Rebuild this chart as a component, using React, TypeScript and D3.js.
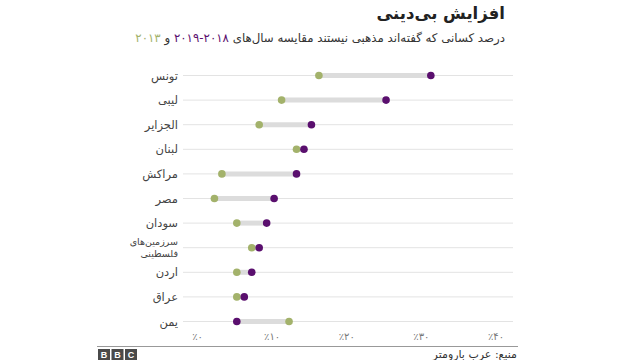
import * as d3 from 'd3'

const countries = ['تونس', 'لیبی', 'الجزایر', 'لبنان', 'مراکش', 'مصر', 'سودان', 'سرزمین‌های فلسطینی', 'اردن', 'عراق', 'یمن']
const values2013 = [16, 11, 8, 13, 3, 2, 5, 7, 5, 5, 12]
const values2019 = [31, 25, 15, 14, 13, 10, 9, 8, 7, 6, 5]
const ticks = [0, 10, 20, 30, 40]

const faDigits = (n: number) => String(n).replace(/\d/g, (d) => '۰۱۲۳۴۵۶۷۸۹'[+d])

const width = 640
const height = 360
const purple = '#5a0f6e'
const green = '#a3b26b'
const font = '"DejaVu Sans", sans-serif'

// in rtl text, "start" anchors the right edge
const rtl = { direction: 'rtl', textAnchor: 'start' } as const

export default function App() {
  const x = d3.scaleLinear().domain([0, 40]).range([199.5, 498])
  const y = d3.scalePoint<string>().domain(countries).range([75.5, 321.5])

  return (
    <svg
      width={width}
      height={height}
      style={{ position: 'absolute', left: 0, top: 0, background: '#fff' }}
      fontFamily={font}
    >
      {/* title */}
      <text x={505} y={19} {...rtl} fontSize={16.5} fontWeight="bold" fill="#222">
        افزایش بی‌دینی
      </text>
      <text x={505} y={42} {...rtl} fontSize={11.8} fill="#333">
        درصد کسانی که گفته‌اند مذهبی نیستند مقایسه سال‌های{' '}
        <tspan fill={purple}>۲۰۱۸-۲۰۱۹</tspan> و <tspan fill={green}>۲۰۱۳</tspan>
      </text>

      {/* grid rows */}
      {countries.map((c) => (
        <line key={'g' + c} x1={183} x2={513} y1={y(c)} y2={y(c)} stroke="#e3e3e3" strokeWidth={1} />
      ))}

      {/* country labels */}
      {countries.map((c) =>
        c.includes(' ') ? (
          <text key={'l' + c} x={178} {...rtl} fontSize={9.5} fill="#444">
            <tspan x={178} y={(y(c) ?? 0) - 3}>{c.split(' ')[0]}</tspan>
            <tspan x={178} y={(y(c) ?? 0) + 9}>{c.split(' ')[1]}</tspan>
          </text>
        ) : (
          <text key={'l' + c} x={178} y={(y(c) ?? 0) + 4} {...rtl} fontSize={11.5} fill="#444">
            {c}
          </text>
        ),
      )}

      {/* connectors */}
      {countries.map((c, i) => (
        <line
          key={'c' + c}
          x1={x(values2013[i])}
          x2={x(values2019[i])}
          y1={y(c)}
          y2={y(c)}
          stroke="#dcdcdc"
          strokeWidth={5}
        />
      ))}

      {/* dots */}
      {countries.map((c, i) => (
        <g key={'d' + c}>
          <circle cx={x(values2013[i])} cy={y(c)} r={3.8} fill={green} />
          <circle cx={x(values2019[i])} cy={y(c)} r={3.8} fill={purple} />
        </g>
      ))}

      {/* x axis labels */}
      {ticks.map((t) => (
        <text key={'t' + t} x={x(t) - 2} y={340} textAnchor="middle" direction="ltr" fontSize={10} fill="#777">
          {'٪' + faDigits(t)}
        </text>
      ))}

      {/* footer */}
      <line x1={97} x2={518} y1={346.5} y2={346.5} stroke="#999" strokeWidth={1} />
      {['B', 'B', 'C'].map((l, i) => (
        <g key={'b' + i}>
          <rect x={98 + i * 13.5} y={349} width={12} height={11} fill="#4a4a4a" />
          <text x={104 + i * 13.5} y={358} textAnchor="middle" fontSize={9} fontWeight="bold" fill="#fff" fontFamily="Arial, sans-serif">
            {l}
          </text>
        </g>
      ))}
      <text x={517} y={358} {...rtl} fontSize={11} fill="#333">
        منبع: عرب بارومتر
      </text>
    </svg>
  )
}
